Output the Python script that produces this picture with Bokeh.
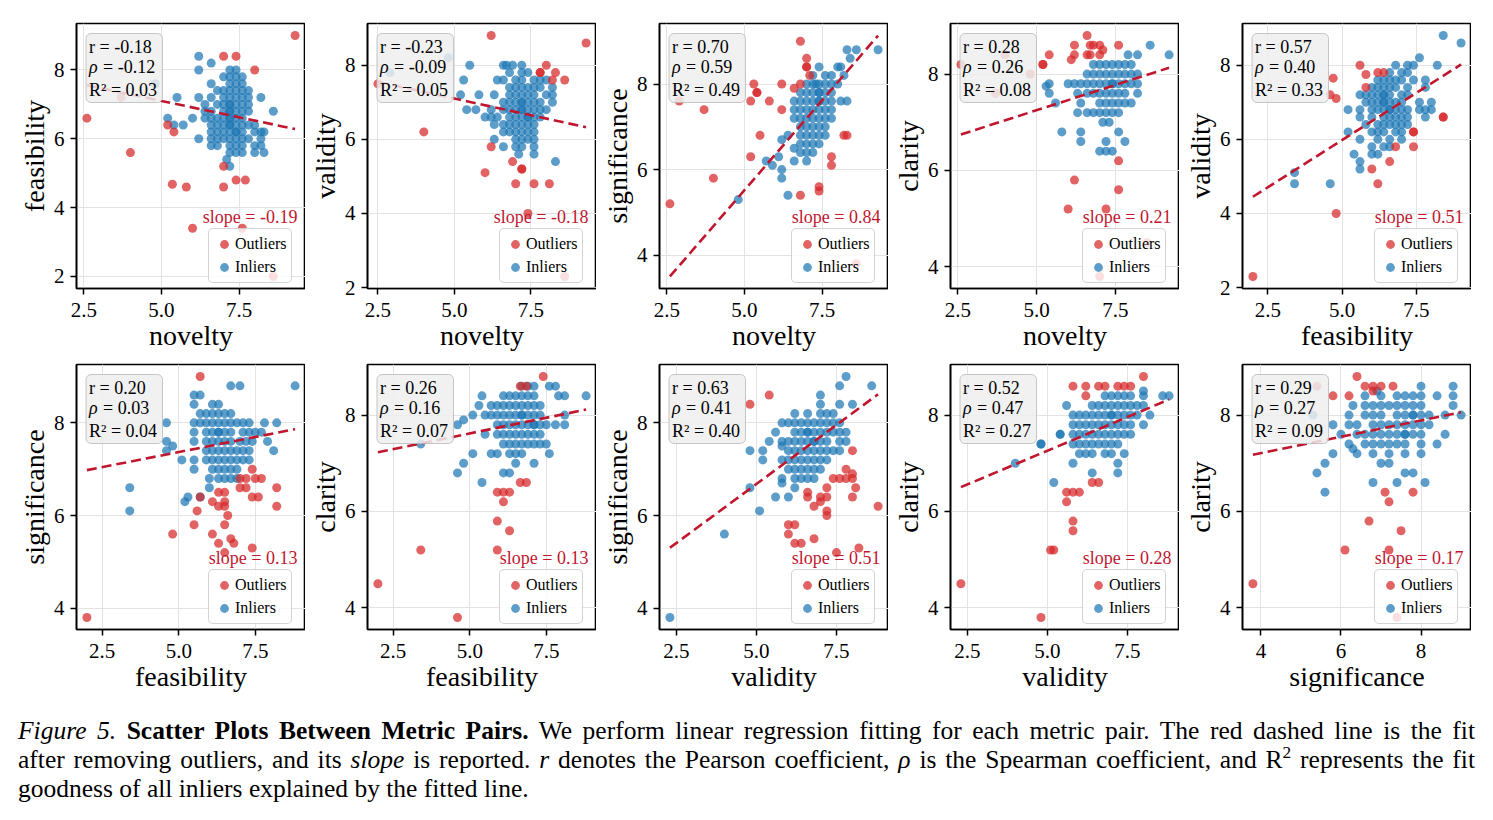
from bokeh.plotting import figure
from bokeh.layouts import column, row
from bokeh.models import (Range1d, FixedTicker, NumeralTickFormatter, Label,
                          BoxAnnotation, Legend, LegendItem, Div)
from bokeh.embed import file_html
from bokeh.resources import INLINE

FONT = "Liberation Serif"
BLUE = "#1f77b4"
RED = "#d62728"
FIT = "#c0172f"

# ---- point data: outliers as (x, y); inliers as rows (y, [x, ...]) ----
NOV_FEA_OUT = [(9.3, 9.0), (7.0, 8.4), (7.4, 8.4), (8.0, 8.0), (2.6, 6.6), (3.7, 7.2),
               (4.0, 5.6), (5.2, 6.4), (5.4, 6.2), (5.35, 4.68), (5.8, 4.6), (7.0, 5.2),
               (7.0, 4.6), (7.4, 4.8), (7.7, 4.8), (6.0, 3.4), (7.6, 3.4), (8.6, 2.0)]
NOV_FEA_IN = [(8.4, [6.2]), (8.2, [6.6]), (8.0, [6.2, 7.2, 7.4]),
              (7.8, [7.0, 7.2, 7.4, 7.6]), (7.6, [4.8, 6.6, 7.2, 7.4, 7.6]),
              (7.4, [6.8, 7.0, 7.2, 7.4, 7.6, 7.8]),
              (7.2, [5.5, 6.2, 6.6, 7.0, 7.2, 7.4, 7.6, 7.8, 8.2]),
              (7.0, [6.4, 6.8, 7.0, 7.2, 7.2, 7.4, 7.6, 7.8]),
              (6.8, [6.4, 6.6, 7.0, 7.2, 7.2, 7.4, 7.6, 7.8, 8.6]),
              (6.6, [5.2, 6.0, 6.4, 6.6, 6.8, 7.0, 7.2, 7.2, 7.4, 7.6]),
              (6.4, [5.4, 5.7, 6.6, 6.8, 7.0, 7.2, 7.2, 7.4, 7.6, 7.8, 8.0]),
              (6.2, [6.6, 6.8, 7.0, 7.2, 7.4, 7.4, 7.6, 8.0, 8.2, 8.3]),
              (6.0, [6.2, 6.6, 6.8, 7.0, 7.2, 7.4, 7.6, 7.8, 8.2]),
              (5.8, [6.6, 6.8, 7.2, 7.4, 7.6, 8.0, 8.2]),
              (5.6, [7.2, 7.4, 7.6, 8.0, 8.3]), (5.4, [7.1]), (5.2, [7.2])]

NOV_VAL_OUT = [(2.5, 7.5), (6.2, 8.8), (9.3, 8.6), (4.0, 6.2), (8.0, 8.0), (7.8, 7.8),
               (7.8, 7.8), (8.3, 7.8), (8.2, 7.6), (8.6, 7.6), (6.2, 5.8), (6.9, 5.4),
               (7.2, 5.2), (7.2, 5.2), (6.0, 5.1), (7.0, 4.8), (7.6, 4.8), (8.1, 4.8),
               (7.4, 4.0), (8.6, 2.3)]
NOV_VAL_IN = [(8.2, [4.8]), (8.0, [5.5, 6.6, 6.7, 6.9, 7.2]),
              (7.8, [2.9, 6.8, 7.2, 7.4]),
              (7.6, [5.3, 6.4, 6.6, 7.0, 7.2, 7.6, 7.8, 8.0]),
              (7.4, [6.8, 7.0, 7.2, 7.4, 7.6, 7.8, 8.2]),
              (7.2, [5.2, 5.8, 6.3, 6.8, 7.0, 7.2, 7.4, 7.6, 8.0, 8.2]),
              (7.0, [6.6, 6.8, 7.0, 7.2, 7.2, 7.4, 7.6, 7.8, 8.2]),
              (6.8, [5.4, 5.7, 6.2, 6.6, 6.8, 7.0, 7.2, 7.2, 7.4, 7.6, 7.8, 8.0]),
              (6.6, [6.0, 6.2, 6.4, 6.8, 7.0, 7.2, 7.4, 7.4, 7.6, 7.8]),
              (6.4, [6.3, 6.6, 6.8, 7.0, 7.2, 7.4, 7.6]),
              (6.2, [6.6, 6.8, 7.0, 7.2, 7.4, 7.6]),
              (6.0, [6.3, 7.0, 7.2, 7.4, 7.6]), (5.8, [6.6, 7.0, 7.2, 7.6]),
              (5.6, [7.1, 7.6]), (5.4, [8.3])]

NOV_SIG_OUT = [(2.6, 5.2), (2.9, 7.6), (3.7, 7.4), (4.0, 5.8), (5.3, 8.0), (5.4, 7.8),
               (5.4, 7.8), (5.2, 7.6), (5.8, 7.6), (6.2, 8.0), (6.2, 7.4), (5.5, 6.8),
               (5.2, 6.3), (6.8, 9.0), (7.0, 8.6), (7.0, 8.4), (7.0, 8.4), (7.1, 8.2),
               (6.6, 7.9), (6.8, 8.0), (6.8, 5.4), (7.4, 5.6), (7.4, 5.5), (7.8, 6.3),
               (7.8, 6.1), (8.2, 6.8), (8.3, 6.8), (8.6, 3.8)]
NOV_SIG_IN = [(8.8, [8.3, 8.6, 9.3]), (8.6, [8.4]), (8.4, [7.4, 8.0, 8.1]),
              (8.2, [7.2, 7.6, 7.8, 8.2]),
              (8.0, [7.0, 7.2, 7.3, 7.4, 7.6, 7.8, 8.0]),
              (7.8, [6.8, 7.0, 7.2, 7.4, 7.4, 7.6, 7.8]),
              (7.6, [6.6, 6.8, 7.0, 7.2, 7.4, 7.4, 7.6, 7.8, 8.1, 8.3]),
              (7.4, [6.6, 6.8, 7.0, 7.2, 7.4, 7.6, 7.8]),
              (7.2, [6.6, 6.8, 7.0, 7.2, 7.4, 7.6, 7.8]),
              (7.0, [6.8, 7.0, 7.2, 7.4, 7.6]),
              (6.8, [6.4, 6.8, 7.0, 7.2, 7.4, 7.6]), (6.7, [6.2]),
              (6.6, [6.8, 7.0, 7.2, 7.4]), (6.5, [6.6]), (6.4, [6.8, 7.0, 7.2]),
              (6.3, [6.1]), (6.2, [5.7, 6.6, 7.0]), (6.1, [5.9]), (6.0, [6.2]),
              (5.8, [6.2]), (5.4, [6.4]), (5.3, [4.8])]

NOV_CLA_OUT = [(2.6, 8.2), (4.0, 8.4), (4.8, 8.0), (3.7, 7.6), (5.2, 8.2), (5.2, 8.2),
               (5.4, 8.4), (6.1, 8.3), (6.2, 8.6), (6.2, 8.4), (6.6, 8.8), (6.6, 8.4),
               (6.7, 8.6), (6.8, 8.6), (7.0, 8.6), (6.7, 8.4), (7.0, 8.4), (7.1, 8.5),
               (7.6, 8.6), (6.2, 5.8), (6.0, 5.2), (7.2, 5.2), (7.6, 6.2), (7.6, 5.6),
               (8.5, 4.5), (7.0, 3.8)]
NOV_CLA_IN = [(8.6, [8.6]), (8.4, [7.9, 8.2, 9.2]),
              (8.2, [6.8, 7.0, 7.2, 7.4, 7.6, 7.8, 8.0]),
              (8.0, [6.6, 6.8, 7.0, 7.2, 7.4, 7.6, 7.8, 8.0, 8.2]),
              (7.8, [5.4, 6.0, 6.2, 6.4, 6.6, 6.8, 7.0, 7.2, 7.4, 7.4, 7.6, 7.8, 8.0, 8.2]),
              (7.75, [5.3]),
              (7.6, [5.4, 6.3, 6.6, 6.8, 7.0, 7.2, 7.4, 7.6, 7.8, 8.2]),
              (7.4, [5.6, 6.4, 7.0, 7.2, 7.4, 7.6, 7.8, 8.0]),
              (7.2, [6.3, 6.6, 6.8, 7.0, 7.2, 7.4, 7.6]), (7.0, [7.1, 7.3]),
              (6.8, [5.8, 6.4, 7.6]), (6.6, [6.4, 7.2, 7.8]), (6.4, [7.0, 7.2, 7.4])]

FEA_VAL_OUT = [(2.0, 2.3), (4.7, 7.65), (4.6, 7.2), (4.8, 7.1), (4.8, 4.0), (5.6, 8.0),
               (5.8, 7.75), (6.2, 7.8), (6.4, 7.8), (5.8, 7.4), (6.0, 5.2), (6.2, 4.8),
               (6.6, 5.4), (6.8, 5.8), (7.4, 6.2), (7.4, 6.2), (7.4, 5.8), (8.4, 6.6),
               (8.4, 6.6)]
FEA_VAL_IN = [(8.8, [8.4]), (8.6, [9.0]), (8.2, [7.6]), (8.0, [6.8, 7.2, 7.4, 8.2]),
              (7.8, [6.6, 7.0, 7.2]), (7.6, [6.2, 6.4, 6.6, 6.8, 7.0, 7.4, 7.8]),
              (7.4, [6.0, 6.2, 6.4, 6.6, 6.8, 7.2, 7.8]),
              (7.2, [5.6, 5.8, 6.0, 6.2, 6.4, 6.4, 6.6, 7.0, 7.2]),
              (7.0, [5.8, 6.0, 6.2, 6.4, 6.4, 6.6, 6.8, 7.0, 7.6, 8.0]),
              (6.8, [5.2, 5.6, 6.0, 6.2, 6.4, 6.6, 6.6, 6.8, 7.0, 7.2, 7.6, 7.8, 8.0]),
              (6.6, [5.6, 6.0, 6.4, 6.6, 6.8, 7.0, 7.2, 7.8]),
              (6.4, [5.8, 6.2, 6.4, 6.6, 6.8, 7.0, 7.2]),
              (6.2, [5.2, 6.0, 6.2, 6.4, 6.8, 7.0]), (6.0, [5.6, 6.2, 6.6, 7.0]),
              (5.8, [6.0, 6.4, 6.6]), (5.6, [5.4, 6.0, 6.2]), (5.4, [5.6]),
              (5.2, [5.6]), (5.1, [3.4]), (4.8, [3.4, 4.6])]

FEA_SIG_OUT = [(2.0, 3.8), (4.8, 5.6), (5.5, 5.8), (5.6, 6.1), (5.7, 9.0), (5.7, 6.4),
               (6.1, 5.6), (6.1, 6.3), (6.3, 6.5), (6.5, 6.5), (6.3, 6.2), (6.5, 6.2),
               (6.3, 5.4), (6.5, 5.8), (6.5, 6.3), (6.6, 6.0), (6.5, 5.2), (6.7, 5.5),
               (6.8, 5.4), (7.0, 6.8), (7.2, 6.8), (7.5, 6.8), (7.7, 6.8), (7.0, 6.6),
               (7.2, 6.6), (7.4, 7.0), (7.4, 6.4), (7.6, 6.4), (7.4, 5.3), (8.2, 6.6),
               (8.2, 6.2)]
FEA_SIG_IN = [(8.8, [6.7, 7.0, 8.8]), (8.6, [5.5, 5.7]), (8.4, [5.5, 6.1, 6.3]),
              (8.2, [5.7, 5.9, 6.1, 6.3, 6.5, 6.7]),
              (8.0, [4.6, 5.5, 5.7, 5.9, 6.1, 6.3, 6.5, 6.7, 6.9, 7.1, 7.3, 7.8, 8.2]),
              (7.8, [5.5, 5.9, 6.1, 6.3, 6.3, 6.5, 6.7, 7.1, 7.3, 7.5, 7.7]),
              (7.6, [4.6, 5.5, 5.9, 6.1, 6.3, 6.5, 6.7, 7.0, 7.2, 7.4, 7.9]),
              (7.5, [4.8]),
              (7.4, [4.6, 5.9, 6.1, 6.3, 6.5, 6.7, 6.9, 7.1, 7.3, 8.1]),
              (7.2, [5.1, 5.5, 5.9, 6.1, 6.3, 6.5, 6.7, 6.9, 7.1, 7.3]),
              (7.0, [5.5, 6.1, 6.3, 6.5, 6.7, 6.9]), (6.8, [6.0, 6.3, 6.5, 6.7, 6.9]),
              (6.6, [3.4, 6.0]), (6.4, [5.3, 5.7]), (6.3, [5.2]), (6.1, [3.4])]

FEA_CLA_OUT = [(2.0, 4.5), (3.4, 5.2), (4.6, 3.8), (5.9, 5.8), (5.9, 5.2), (6.3, 5.6),
               (6.1, 6.2), (5.9, 6.4), (6.1, 6.4), (6.3, 6.4), (6.65, 6.6), (6.85, 6.6),
               (6.65, 8.6), (6.85, 8.6), (7.4, 8.8)]
FEA_CLA_IN = [(8.6, [6.7, 6.9, 7.1, 7.6, 7.8]),
              (8.4, [5.4, 6.1, 6.3, 6.5, 6.7, 6.9, 7.1, 7.9, 8.1, 8.8]),
              (8.2, [5.3, 5.7, 5.9, 6.1, 6.3, 6.5, 6.7, 6.9, 7.1, 7.3]),
              (8.0, [5.1, 5.5, 5.7, 5.9, 6.1, 6.3, 6.5, 6.7, 6.7, 6.9, 7.1, 7.3, 8.1]),
              (7.9, [4.8]),
              (7.8, [4.6, 5.9, 6.1, 6.3, 6.5, 6.7, 6.9, 7.1, 7.1, 7.3, 7.5, 7.8, 8.1]),
              (7.6, [5.5, 5.9, 6.1, 6.3, 6.5, 6.7, 6.9, 7.1, 7.3]),
              (7.4, [3.4, 6.1, 6.3, 6.5, 6.7, 6.9, 7.1, 7.3, 7.5]),
              (7.2, [5.1, 5.7, 5.9, 6.3, 6.5, 6.7, 7.6]), (7.0, [4.8, 6.5, 7.1]),
              (6.8, [4.6, 6.1, 6.3]), (6.6, [5.4])]

VAL_SIG_OUT = [(4.8, 8.4), (5.4, 8.6), (6.0, 5.8), (6.2, 5.8), (6.0, 5.6), (6.2, 5.4),
               (6.4, 5.4), (6.8, 5.5), (6.6, 6.5), (6.6, 6.4), (6.8, 6.2), (7.0, 6.3),
               (7.2, 6.6), (7.2, 6.4), (7.2, 6.1), (7.2, 6.0), (7.0, 6.4), (7.4, 6.8),
               (7.6, 6.8), (7.8, 6.8), (7.8, 7.0), (8.0, 6.9), (8.0, 6.8), (8.0, 7.4),
               (8.0, 6.4), (8.1, 6.6), (7.5, 5.2), (8.2, 5.3), (8.8, 6.2)]
VAL_SIG_IN = [(9.0, [7.8]), (8.8, [7.6, 8.6]), (8.6, [7.0]), (8.4, [7.0, 7.6, 8.0]),
              (8.2, [6.2, 6.6, 7.0, 7.2, 7.4]),
              (8.0, [5.8, 6.0, 6.2, 6.4, 6.6, 6.8, 7.0, 7.2, 7.4, 7.6]),
              (7.8, [5.6, 6.2, 6.4, 6.6, 6.6, 6.8, 7.0, 7.2, 7.4, 7.6, 7.8]),
              (7.6, [5.4, 5.8, 6.0, 6.2, 6.4, 6.6, 6.8, 6.8, 7.0, 7.2, 7.6, 7.8]),
              (7.5, [5.8]),
              (7.4, [4.8, 5.2, 6.0, 6.2, 6.4, 6.6, 6.8, 7.0, 7.2, 7.4, 7.6]),
              (7.2, [5.2, 5.8, 6.0, 6.2, 6.4, 6.6, 6.8, 7.0, 7.2]),
              (7.0, [6.0, 6.2, 6.4, 6.6, 6.8, 7.0]), (6.8, [5.8, 6.2, 6.4, 6.6, 6.8]),
              (6.7, [5.8]), (6.6, [4.8, 6.2]), (6.4, [5.6, 6.0]), (6.1, [5.1]),
              (5.6, [4.0]), (3.8, [2.3])]

VAL_CLA_OUT = [(2.3, 4.5), (4.8, 3.8), (5.1, 5.2), (5.2, 5.2), (5.8, 5.8), (5.8, 5.6),
               (5.6, 6.2), (5.6, 6.4), (5.8, 6.4), (6.0, 6.4), (5.8, 8.6), (6.2, 8.6),
               (6.2, 8.4), (6.6, 8.6), (6.8, 8.6), (7.2, 8.6), (7.4, 8.6), (7.6, 8.6),
               (8.0, 8.8), (6.4, 6.6), (6.6, 6.6)]
VAL_CLA_IN = [(8.5, [8.0]), (8.4, [6.8, 7.0, 7.2, 7.4, 7.6, 8.0, 8.6, 8.8]),
              (8.2, [5.6, 6.4, 6.6, 6.8, 7.0, 7.2, 7.4, 7.6, 7.8, 8.0]),
              (8.0, [5.8, 6.0, 6.2, 6.4, 6.6, 6.8, 7.0, 7.0, 7.2, 7.4, 7.6, 7.8, 8.2]),
              (7.8, [5.8, 6.0, 6.2, 6.4, 6.6, 6.8, 7.0, 7.2, 7.4, 7.6, 8.0]),
              (7.6, [5.4, 5.4, 5.8, 6.0, 6.2, 6.4, 6.6, 6.8, 7.0, 7.2, 7.4, 7.6]),
              (7.4, [4.8, 4.8, 5.8, 6.0, 6.2, 6.4, 6.6, 6.8, 7.0, 7.2]),
              (7.2, [6.0, 6.2, 6.4, 6.8, 7.0, 7.4]), (7.0, [4.0, 5.8, 7.2]),
              (6.8, [6.4, 7.2]), (6.6, [5.2])]

SIG_CLA_OUT = [(3.8, 4.5), (5.4, 8.6), (5.8, 8.4), (6.2, 8.4), (6.4, 8.8), (6.6, 8.6),
               (6.8, 8.6), (7.0, 8.6), (6.8, 8.5), (7.3, 8.6), (6.1, 5.2), (6.7, 5.8),
               (7.1, 6.4), (7.2, 6.2), (7.2, 5.2), (7.5, 5.6), (7.8, 6.4), (7.4, 3.8)]
SIG_CLA_IN = [(8.6, [8.0, 8.8]), (8.5, [6.9]),
              (8.4, [6.6, 7.0, 7.4, 7.6, 7.8, 8.0, 8.4, 8.8]),
              (8.2, [6.3, 6.6, 6.8, 7.0, 7.2, 7.4, 7.6, 7.8, 8.0, 8.8]),
              (8.0, [5.3, 6.2, 6.6, 6.8, 7.0, 7.4, 7.6, 7.8, 7.8, 8.0, 8.2, 8.6, 9.0]),
              (7.8, [5.8, 6.2, 6.4, 6.8, 7.0, 7.2, 7.4, 7.6, 7.8, 8.0, 8.2]),
              (7.6, [6.0, 6.4, 6.6, 6.8, 7.0, 7.2, 7.4, 7.6, 7.6, 7.8, 8.0, 8.6]),
              (7.4, [6.2, 6.6, 6.8, 7.0, 7.2, 7.4, 7.6, 8.0, 8.4]), (7.3, [6.3]),
              (7.2, [5.8, 6.4, 6.8, 7.2, 7.6, 8.0]), (7.0, [5.6, 7.0, 7.2]),
              (6.8, [5.4, 7.6, 7.8]), (6.6, [6.8, 7.4, 8.1]), (6.4, [5.6])]

# ---- per-panel labels and fit statistics (row-major order) ----
X_LABELS = ["novelty", "novelty", "novelty", "novelty", "feasibility",
            "feasibility", "feasibility", "validity", "validity", "significance"]
Y_LABELS = ["feasibility", "validity", "significance", "clarity", "validity",
            "significance", "clarity", "significance", "clarity", "clarity"]
OUTLIERS = [NOV_FEA_OUT, NOV_VAL_OUT, NOV_SIG_OUT, NOV_CLA_OUT, FEA_VAL_OUT,
            FEA_SIG_OUT, FEA_CLA_OUT, VAL_SIG_OUT, VAL_CLA_OUT, SIG_CLA_OUT]
INLIERS = [NOV_FEA_IN, NOV_VAL_IN, NOV_SIG_IN, NOV_CLA_IN, FEA_VAL_IN,
           FEA_SIG_IN, FEA_CLA_IN, VAL_SIG_IN, VAL_CLA_IN, SIG_CLA_IN]
PEARSON = ["-0.18", "-0.23", "0.70", "0.28", "0.57", "0.20", "0.26", "0.63", "0.52", "0.29"]
SPEARMAN = ["-0.12", "-0.09", "0.59", "0.26", "0.40", "0.03", "0.16", "0.41", "0.47", "0.27"]
R_SQUARED = ["0.03", "0.05", "0.49", "0.08", "0.33", "0.04", "0.07", "0.40", "0.27", "0.09"]
SLOPES = [-0.19, -0.18, 0.84, 0.21, 0.51, 0.13, 0.13, 0.51, 0.28, 0.17]
INTERCEPTS = [8.05, 8.00, 1.32, 6.20, 3.43, 6.72, 6.97, 4.13, 5.86, 6.53]
X_TICKS = [[2.5, 5.0, 7.5]] * 9 + [[4, 6, 8]]
Y_TICKS = [2, 4, 6, 8]

CAPTION_LINES = [
    "<i>Figure 5.</i> <b>Scatter Plots Between Metric Pairs.</b> We perform linear "
    "regression fitting for each metric pair. The red dashed line is the fit",
    "after removing outliers, and its <i>slope</i> is reported. <i>r</i> denotes the "
    "Pearson coefficient, <i>\u03c1</i> is the Spearman coefficient, and "
    "R<sup style=\"font-size:68%; line-height:0; vertical-align:0.55em\">2</sup> "
    "represents the fit",
    "goodness of all inliers explained by the fitted line.",
]

FW, FH = 229, 265
LEFT_BORDERS = [76, 62, 63, 62, 63]


def make_panel(i):
    out = OUTLIERS[i]
    inl = [(x, y) for y, xs in INLIERS[i] for x in xs]
    ox = [p[0] for p in out]
    oy = [p[1] for p in out]
    ix = [p[0] for p in inl]
    iy = [p[1] for p in inl]

    xmin, xmax = min(ox + ix), max(ox + ix)
    lx = [xmin, xmax]
    ly = [INTERCEPTS[i] + SLOPES[i] * v for v in lx]

    ylo, yhi = min(oy + iy + ly), max(oy + iy + ly)
    xpad, ypad = 0.05 * (xmax - xmin), 0.05 * (yhi - ylo)
    x0, x1 = xmin - xpad, xmax + xpad
    y0, y1 = ylo - ypad, yhi + ypad
    sx = (x1 - x0) / FW   # data units per pixel
    sy = (y1 - y0) / FH

    top_row = i < 5
    p = figure(frame_width=FW, frame_height=FH,
               x_range=Range1d(x0, x1), y_range=Range1d(y0, y1),
               output_backend="svg", toolbar_location=None,
               min_border_left=LEFT_BORDERS[i % 5], min_border_right=0,
               min_border_top=23 if top_row else 4,
               min_border_bottom=72 if top_row else 80,
               background_fill_color="white", border_fill_color="white",
               outline_line_color="black", outline_line_width=1.6)

    p.xaxis.axis_label = X_LABELS[i]
    p.yaxis.axis_label = Y_LABELS[i]
    p.xaxis.ticker = FixedTicker(ticks=X_TICKS[i])
    p.yaxis.ticker = FixedTicker(ticks=Y_TICKS)
    p.xaxis.formatter = NumeralTickFormatter(format="0" if i == 9 else "0.0")
    p.yaxis.formatter = NumeralTickFormatter(format="0")
    for ax in (p.xaxis[0], p.yaxis[0]):
        ax.axis_label_text_font = FONT
        ax.axis_label_text_font_size = "28px"
        ax.axis_label_text_font_style = "normal"
        ax.axis_label_text_color = "black"
        ax.major_label_text_font = FONT
        ax.major_label_text_font_size = "21px"
        ax.major_label_text_color = "black"
        ax.major_tick_out = 6
        ax.major_tick_in = 0
        ax.major_tick_line_width = 1.5
        ax.major_tick_line_color = "black"
        ax.minor_tick_out = 0
        ax.minor_tick_in = 0
        ax.axis_line_width = 1.6
        ax.axis_line_color = "black"
    p.xaxis.major_label_standoff = 8
    p.xaxis.axis_label_standoff = 0
    p.yaxis.major_label_standoff = 6
    p.yaxis.axis_label_standoff = 1
    p.grid.grid_line_color = "#e3e3e3"
    p.grid.grid_line_width = 1

    r_in = p.scatter(ix, iy, size=9, fill_color=BLUE, fill_alpha=0.72, line_color=None)
    r_out = p.scatter(ox, oy, size=9, fill_color=RED, fill_alpha=0.72, line_color=None)
    p.line(lx, ly, line_color=FIT, line_width=2.6, line_dash="10 5")

    # statistics box in the upper-left corner
    box = BoxAnnotation(left=x0 + 9.5 * sx, right=x0 + 86 * sx,
                        top=y1 - 10 * sy, bottom=y1 - 79 * sy,
                        fill_color="#efefef", fill_alpha=0.85,
                        line_color="#b8b8b8", line_alpha=0.8, line_width=1)
    if "border_radius" in BoxAnnotation.properties():
        box.border_radius = 5
    p.add_layout(box)
    tx = x0 + 12.5 * sx
    stat_style = dict(text_font=FONT, text_font_size="18px", text_baseline="middle",
                      text_align="left", text_color="black")
    p.add_layout(Label(x=tx, y=y1 - 23 * sy, text=f"r = {PEARSON[i]}", **stat_style))
    p.add_layout(Label(x=tx, y=y1 - 43 * sy, text="\u03c1", text_font_style="italic",
                       **stat_style))
    p.add_layout(Label(x=tx + 14 * sx, y=y1 - 43 * sy, text=f"= {SPEARMAN[i]}",
                       **stat_style))
    p.add_layout(Label(x=tx, y=y1 - 66 * sy, text=f"R\u00b2 = {R_SQUARED[i]}",
                       **stat_style))

    p.add_layout(Label(x=x1 - 8 * sx, y=y0 + 72 * sy, text=f"slope = {SLOPES[i]:.2f}",
                       text_font=FONT, text_font_size="18px", text_color=FIT,
                       text_baseline="middle", text_align="right"))

    legend = Legend(items=[LegendItem(label="Outliers", renderers=[r_out]),
                           LegendItem(label="Inliers", renderers=[r_in])],
                    location=(132, 5), label_text_font=FONT,
                    label_text_font_size="16px", label_text_color="black",
                    glyph_width=22, glyph_height=22, label_standoff=0,
                    label_height=22, padding=4, spacing=1, margin=0,
                    border_line_color="#c8c8c8", border_line_alpha=0.8,
                    background_fill_color="white", background_fill_alpha=0.8)
    if "border_radius" in Legend.properties():
        legend.border_radius = 5
    p.add_layout(legend)
    return p


panels = [make_panel(i) for i in range(10)]

line_divs = []
for k, txt in enumerate(CAPTION_LINES):
    last = k == len(CAPTION_LINES) - 1
    line_divs.append(
        f"<div style=\"white-space:nowrap; text-align:{'left' if last else 'justify'};"
        f" text-align-last:{'left' if last else 'justify'};\">{txt}</div>")
caption = Div(text=(
    "<div style=\"margin:2px 0 0 13px; width:1457px; font-family:'Liberation Serif',serif;"
    " font-size:25.5px; line-height:29px; color:#000;\">" + "".join(line_divs) + "</div>"),
    width=1493, height=100)

layout = column(row(*panels[:5]), row(*panels[5:]), caption)

with open("out.html", "w") as f:
    f.write(file_html(layout, INLINE))
